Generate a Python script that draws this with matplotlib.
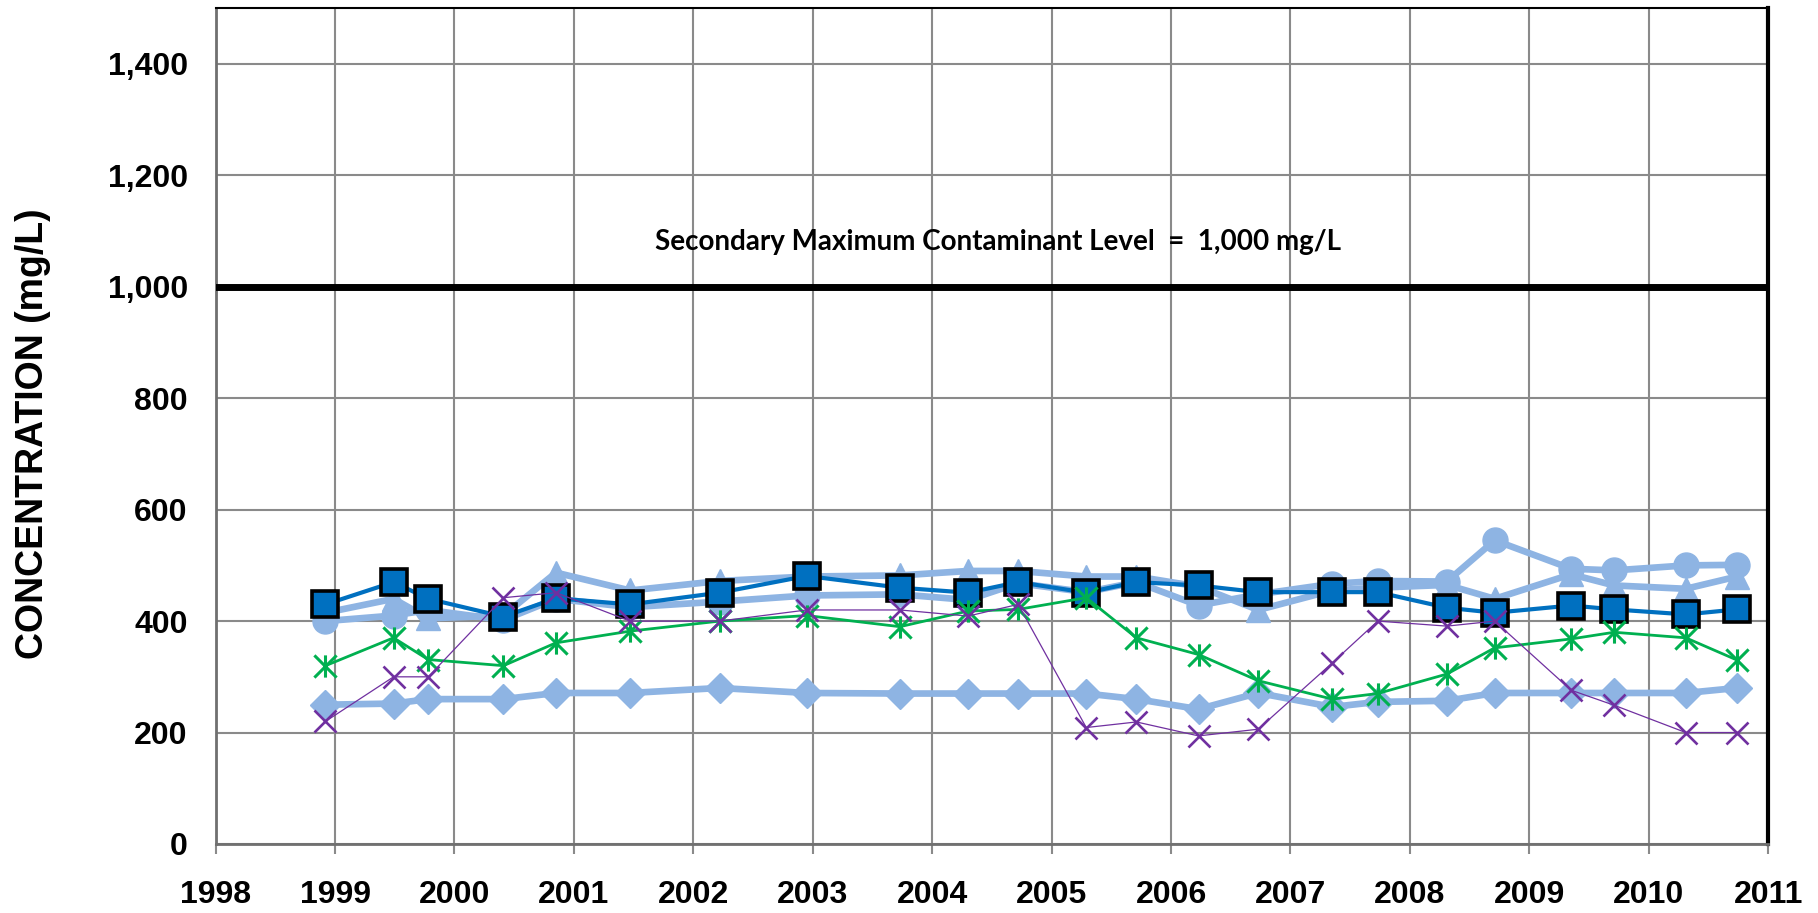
import matplotlib
matplotlib.use('Agg')
import matplotlib.pyplot as plt
from matplotlib.path import Path
from matplotlib.ticker import MultipleLocator, FuncFormatter

plt.rcParams['font.family'] = 'Liberation Sans'
plt.rcParams['font.weight'] = 'bold'

# sampling dates (decimal years)
dates = [1998.92, 1999.49, 1999.78, 2000.41, 2000.85, 2001.47, 2002.22, 2002.95,
         2003.73, 2004.30, 2004.72, 2005.29, 2005.71, 2006.23, 2006.73, 2007.35,
         2007.73, 2008.31, 2008.71, 2009.35, 2009.71, 2010.31, 2010.74]

# TDS concentrations, mg/L
well_square = [430, 470, 440, 408, 441, 430, 451, 481, 460, 451, 470, 451,
               470, 464, 452, 452, 452, 424, 415, 428, 421, 412, 421]
well_circle = [400, 410, 420, 402, 440, 425, 435, 446, 448, 438, 468, 452,
               470, 428, 448, 467, 472, 471, 545, 494, 491, 500, 501]
well_triangle = [415, 440, 405, 410, 487, 455, 472, 480, 482, 490, 490, 480,
                 480, 462, 420, 455, 460, 465, 440, 484, 464, 458, 480]
well_diamond = [250, 252, 260, 260, 271, 271, 280, 271, 270, 270, 270, 270,
                260, 242, 271, 246, 255, 257, 271, 271, 271, 271, 280]
well_star = [320, 370, 331, 320, 361, 382, 400, 410, 390, 418, 421, 442,
             370, 340, 293, 260, 270, 305, 352, 368, 380, 370, 330]
well_x = [220, 300, 300, 442, 451, 400, 400, 420, 420, 409, 430, 209,
          219, 194, 206, 325, 400, 391, 400, 276, 249, 200, 200]

smcl = 1000
smcl_label = 'Secondary Maximum Contaminant Level  =  1,000 mg/L'

light = '#8EB4E3'
dark = '#0070C0'
green = '#00B050'
purple = '#7030A0'
gridc = '#8A8A8A'

# excel-style star: vertical bar plus an X
star = Path([(0, -1), (0, 1), (-1, -1), (1, 1), (-1, 1), (1, -1)],
            [Path.MOVETO, Path.LINETO, Path.MOVETO, Path.LINETO, Path.MOVETO, Path.LINETO])

fig = plt.figure(figsize=(18.18, 9.13), dpi=100)
ax = fig.add_axes([0.1186, 0.0756, 0.9726 - 0.1186, 0.991 - 0.0756])

ax.plot(dates, well_diamond, color=light, lw=4.8, marker='D', ms=15, zorder=3)
ax.plot(dates, well_circle, color=light, lw=4.8, marker='o', ms=18, zorder=3)
ax.plot(dates, well_triangle, color=light, lw=4.8, marker='^', ms=17, zorder=3)
ax.plot(dates, well_square, color=dark, lw=3, marker='s', ms=19,
        mfc=dark, mec='black', mew=2.6, zorder=4)
ax.plot(dates, well_star, color=green, lw=2, marker=star, ms=16,
        mec=green, mew=2.2, zorder=5)
ax.plot(dates, well_x, color=purple, lw=0.9, marker='x', ms=16,
        mec=purple, mew=1.9, zorder=6)

ax.axhline(smcl, color='black', lw=5, zorder=7)
ax.text(2004.55, 1080, smcl_label, family='Lato', fontsize=20, fontweight='bold',
        ha='center', va='center')

ax.set_xlim(1998, 2011)
ax.set_ylim(0, 1500)
ax.xaxis.set_major_locator(MultipleLocator(1))
ax.yaxis.set_major_locator(MultipleLocator(200))
ax.xaxis.set_major_formatter(FuncFormatter(lambda v, p: '%d' % v))
ax.yaxis.set_major_formatter(FuncFormatter(lambda v, p: '{:,.0f}'.format(v) if v <= 1400 else ''))
ax.grid(True, color=gridc, lw=1.5, zorder=0)
ax.set_axisbelow(True)

ax.tick_params(axis='x', length=7, width=1.5, color=gridc, pad=19, labelsize=23, direction='out')
ax.tick_params(axis='y', length=0, pad=20, labelsize=23)
for lab in ax.get_xticklabels() + ax.get_yticklabels():
    lab.set_fontweight('bold')

for side in ['left', 'bottom']:
    ax.spines[side].set_color('#707070')
    ax.spines[side].set_linewidth(2)
ax.spines['top'].set_color('black')
ax.spines['top'].set_linewidth(1.5)
ax.spines['right'].set_color('black')
ax.spines['right'].set_linewidth(3)

fig.text(0.018, 0.525, 'CONCENTRATION (mg/L)', rotation=90, fontsize=27,
         fontweight='bold', ha='center', va='center')

plt.savefig('out.png', dpi=100)
